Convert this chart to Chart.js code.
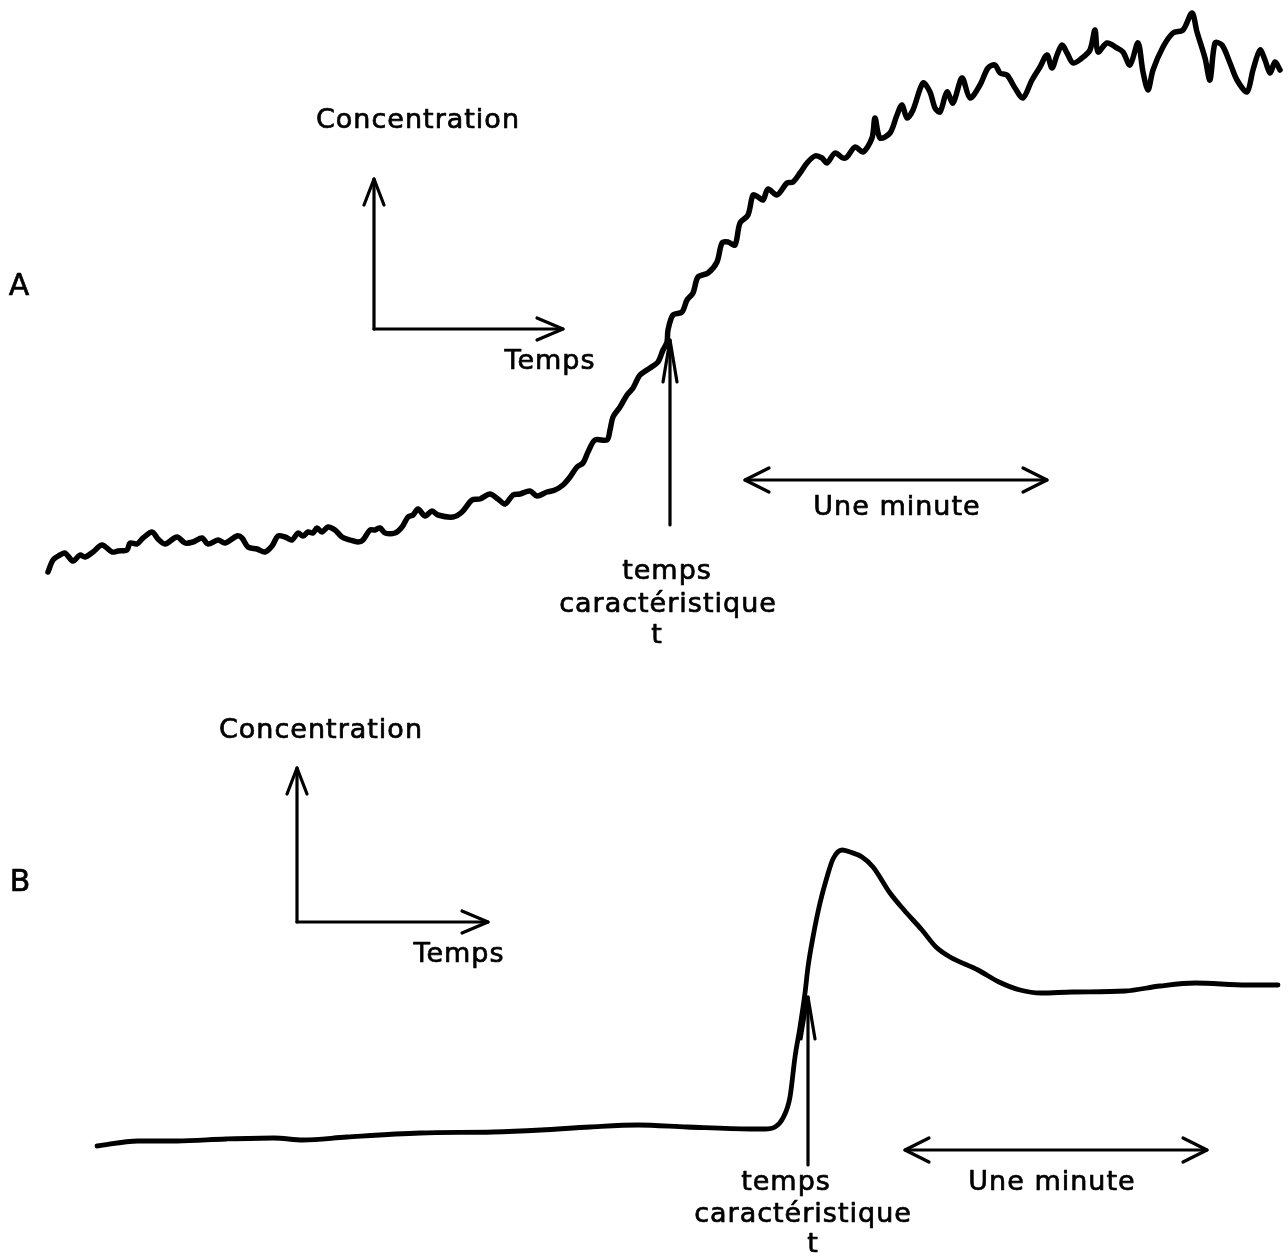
<!DOCTYPE html>
<html>
<head>
<meta charset="utf-8">
<script src="https://cdn.jsdelivr.net/npm/chart.js@4.4.1/dist/chart.umd.min.js"></script>
<style>
  html, body { margin: 0; padding: 0; background: #fff; }
  #wrap { position: relative; width: 1288px; height: 1256px; }
  canvas { position: absolute; left: 0; }
  #cA { top: 0; }
  #cB { top: 660px; }
</style>
</head>
<body>
<div id="wrap">
  <canvas id="cA" width="1288" height="660"></canvas>
  <canvas id="cB" width="1288" height="596"></canvas>
</div>
<script>
// ---- Data (time in seconds, concentration in arbitrary units) ----
const timeA = [9.6,10.6,12,13,14.6,16,17,18.6,20.4,22.4,23.6,25.4,26,27.4,28.6,30.4,31.6,33,35.4,37,38.6,40.4,41.6,43.6,45,47.4,48.4,49.6,51.4,53,54.4,55.6,57,58.4,59.6,60.6,61.6,62.6,63.4,64.4,65.6,67,68.4,70,71.6,72.6,74,75,76,77,79,80.4,81.6,82.6,83.6,85,86.4,87.6,90.6,92.4,94.4,96,98,99.6,101,102.6,104,106,107.4,109.4,111,112.6,114,115.4,116.6,117.6,119,121.4,122,122.6,124,125.4,126.6,127.4,128,130,131.6,132.6,133.4,133.6,134.6,136.4,137.4,138.6,139.6,141.6,143.4,144.4,145.6,147,148,149.6,150.6,151.6,152.6,153.6,155.4,157.4,158.6,160,161.4,163,164.4,165.4,167,168.6,169.4,171,172.6,174.4,175,176,178,179.4,180.4,181.4,182.6,184.6,186,187,188,189.4,190.6,192.4,194,196,197.6,199,200,201.4,203,204.6,206.4,208,209.4,210.4,211.4,212.4,213.4,214.6,216.4,218,219,219.6,221.4,223.4,224.6,226,227.6,228.6,229.6,230.6,232.6,234.6,236.6,238.4,239.4,241,242,243,244.4,246,247.4,249.4,250.6,252,253,254,255,256];
const concA = [8.8,10.0,10.5,10.7,9.9,10.5,10.3,10.8,11.5,10.8,10.9,11.0,11.7,11.6,12.2,12.8,12.1,11.6,12.3,11.7,11.8,12.2,11.6,12.0,11.7,12.4,12.2,11.3,11.1,10.8,11.4,12.4,12.3,12.0,12.7,12.4,12.8,12.7,13.2,12.8,13.3,13.0,12.3,12.0,11.8,12.0,13.0,13.0,13.2,12.7,12.7,13.3,14.3,14.5,15.1,14.4,14.9,14.5,14.3,14.8,16.0,16.1,16.6,16.1,15.6,16.5,16.6,16.9,16.4,16.8,17.0,17.5,18.3,19.3,19.7,20.8,22.0,22.0,23.0,24.3,25.3,26.5,27.2,28.0,28.5,29.2,29.8,31.0,31.8,33.0,34.5,34.8,36.0,36.7,38.3,38.7,39.8,41.7,41.8,41.5,43.7,44.5,46.5,46.3,46.0,47.1,46.5,47.7,47.8,48.7,49.7,50.4,50.2,49.7,50.7,50.2,50.3,51.3,50.8,52.2,54.2,52.2,52.7,54.5,55.5,54.2,55.0,57.7,56.8,55.2,54.8,56.8,55.7,58.2,56.2,57.5,59.2,59.5,58.7,58.5,57.2,56.2,58.0,59.3,60.5,59.2,60.5,61.5,60.7,59.7,60.2,61.0,63.0,60.8,61.7,61.2,60.8,59.5,61.7,58.8,57.0,59.0,61.3,62.7,63.0,64.7,62.8,60.2,58.0,61.7,61.5,59.7,58.0,56.8,59.0,61.0,60.0,58.7,59.8,59.0];

const timeB = [19.4,27.6,35.4,45.2,54.8,60.6,69.4,84,98.6,108.2,118,127.6,137.4,150,153,155,156.6,158,159,160,161,161.6,162.6,164,165.4,166.6,168.4,170,172.4,174.6,178,180.8,184.4,187.2,190,195.6,199.8,204,208.2,214.4,225,232,239,249.4,255.6];
const concB = [11.0,11.5,11.5,11.7,11.8,11.6,11.9,12.3,12.4,12.6,12.9,13.1,12.9,12.7,12.7,12.9,13.8,15.9,19.9,22.9,26.3,28.9,31.9,35.3,37.9,39.7,40.6,40.4,39.9,38.9,36.3,34.6,32.6,30.9,29.9,28.6,27.4,26.6,26.3,26.4,26.5,27.0,27.3,27.1,27.1];

// characteristic times and one-minute scale bars (seconds)
const charTimeA = 134;
const charTimeB = 161.6;
const minuteA = [149, 209.4];
const minuteB = [181, 241.4];

// text labels
const labelsA = { panel: "A", yTitle: "Concentration", xTitle: "Temps", charLines: ["temps", "caractéristique", "t"], minute: "Une minute" };
const labelsB = { panel: "B", yTitle: "Concentration", xTitle: "Temps", charLines: ["temps", "caractéristique", "t"], minute: "Une minute" };

// ---- drawing helpers ----
function openHead(ctx, tx, ty, fx, fy, len, half) {
  const ang = Math.atan2(ty - fy, tx - fx);
  const bx = tx - len * Math.cos(ang), by = ty - len * Math.sin(ang);
  const px = -Math.sin(ang) * half, py = Math.cos(ang) * half;
  ctx.beginPath();
  ctx.moveTo(bx + px, by + py);
  ctx.lineTo(tx, ty);
  ctx.lineTo(bx - px, by - py);
  ctx.stroke();
}
function arrow(ctx, x1, y1, x2, y2, len, half) {
  ctx.beginPath(); ctx.moveTo(x1, y1); ctx.lineTo(x2, y2); ctx.stroke();
  openHead(ctx, x2, y2, x1, y1, len, half);
}

const sketchPlugin = {
  id: 'sketch',
  afterDatasetsDraw(chart, args, o) {
    const ctx = chart.ctx;
    const xs = chart.scales.x;
    ctx.save();
    ctx.strokeStyle = '#000';
    ctx.fillStyle = '#000';
    ctx.lineCap = 'round';
    ctx.lineJoin = 'round';
    ctx.textAlign = 'center';
    ctx.textBaseline = 'middle';
    const L = o.labels;
    const font = (s) => s + 'px "DejaVu Sans", sans-serif';
    const txt = (s, x, y) => {
      ctx.fillText(s, x, y);
      ctx.save(); ctx.lineWidth = 0.7; ctx.strokeText(s, x, y); ctx.restore();
    };
    // panel letter
    ctx.font = font(o.panelSize);
    txt(L.panel, o.panel[0], o.panel[1]);
    // small axis glyph
    ctx.lineWidth = 3.2;
    const g = o.glyph;
    arrow(ctx, g.cx, g.cy, g.cx, g.top, 26, 10);
    arrow(ctx, g.cx, g.cy, g.right, g.cy, 26, 11);
    ctx.font = font(o.textSize);
    if (ctx.letterSpacing !== undefined) ctx.letterSpacing = '1px';
    txt(L.yTitle, o.yTitle[0], o.yTitle[1]);
    txt(L.xTitle, o.xTitle[0], o.xTitle[1]);
    // characteristic time arrow
    ctx.lineWidth = 3.2;
    const cx = xs.getPixelForValue(o.charTime);
    arrow(ctx, cx, o.charY[0], cx, o.charY[1], 42, 7);
    o.charText.forEach((p, i) => txt(L.charLines[i], p[0], p[1]));
    // one-minute double arrow
    const m1 = xs.getPixelForValue(o.minute[0]);
    const m2 = xs.getPixelForValue(o.minute[1]);
    arrow(ctx, m1, o.minuteY, m2, o.minuteY, 24, 12);
    openHead(ctx, m1, o.minuteY, m2, o.minuteY, 24, 12);
    txt(L.minute, o.minuteText[0], o.minuteText[1]);
    ctx.restore();
  }
};

function makeChart(id, times, concs, yMax, lw, interp, ann) {
  return new Chart(document.getElementById(id), {
    type: 'line',
    data: {
      datasets: [{
        data: times.map((t, i) => ({ x: t, y: concs[i] })),
        borderColor: '#000',
        borderWidth: lw,
        pointRadius: 0,
        tension: 0.3,
        cubicInterpolationMode: interp,
        fill: false,
        clip: false,
        borderCapStyle: 'round',
        borderJoinStyle: 'round'
      }]
    },
    options: {
      responsive: false,
      animation: false,
      devicePixelRatio: 1,
      layout: { padding: 0 },
      scales: {
        x: { type: 'linear', min: 0, max: 257.6, display: false },
        y: { type: 'linear', min: 0, max: yMax, display: false }
      },
      plugins: { legend: { display: false }, tooltip: { enabled: false }, sketch: ann }
    },
    plugins: [sketchPlugin]
  });
}

makeChart('cA', timeA, concA, 66, 5.5, 'default', {
  labels: labelsA, panelSize: 30, textSize: 27,
  panel: [19, 287],
  glyph: { cx: 374, cy: 329, top: 179, right: 563 },
  yTitle: [418, 121], xTitle: [550, 362],
  charTime: charTimeA, charY: [525, 340],
  charText: [[667, 572], [668, 605], [657, 636]],
  minute: minuteA, minuteY: 480, minuteText: [897, 508]
});

makeChart('cB', timeB, concB, 59.6, 4.8, 'monotone', {
  labels: labelsB, panelSize: 30, textSize: 27,
  panel: [20, 223],
  glyph: { cx: 297, cy: 262, top: 108, right: 488 },
  yTitle: [321, 71], xTitle: [459, 295],
  charTime: charTimeB, charY: [505, 337],
  charText: [[786, 523], [803, 555], [813, 585]],
  minute: minuteB, minuteY: 490, minuteText: [1052, 523]
});
</script>
</body>
</html>
